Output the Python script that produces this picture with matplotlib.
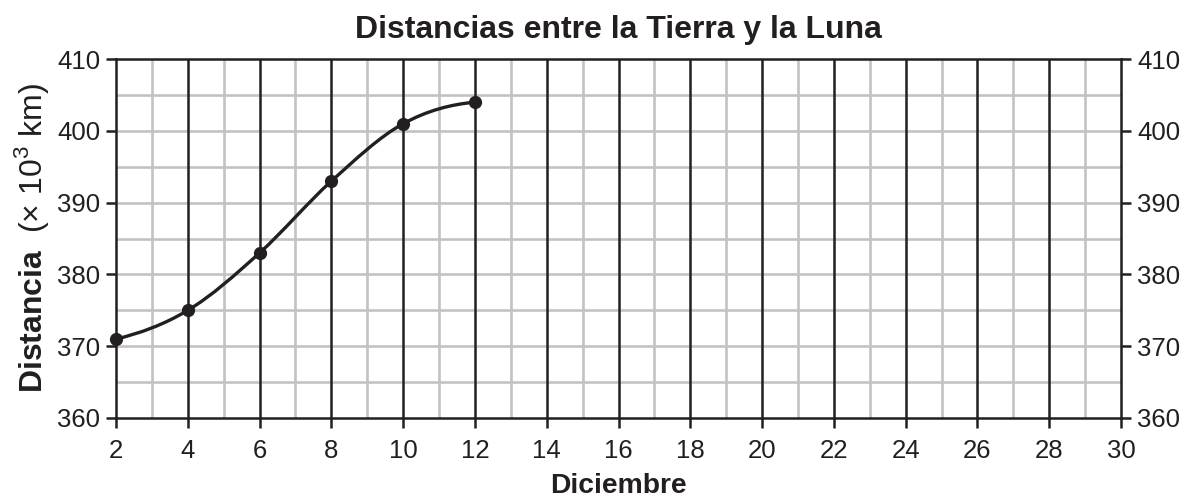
import matplotlib.pyplot as plt
import numpy as np
from matplotlib.path import Path
from matplotlib.patches import PathPatch

plt.rcParams['font.family'] = ['Liberation Sans', 'DejaVu Sans']
plt.rcParams['mathtext.fontset'] = 'custom'
plt.rcParams['mathtext.rm'] = 'Liberation Sans'
plt.rcParams['mathtext.bf'] = 'Liberation Sans:bold'

# data
dias = [2, 4, 6, 8, 10, 12]
distancia = [371, 375, 383, 393, 401, 404]

ink = '#231f20'
gris = '#c3c3c6'

fig = plt.figure(figsize=(11.9, 5.01), dpi=100)
ax = fig.add_axes([0.0975, 0.1657, 0.8445, 0.7163])
ax.set_xlim(2, 30)
ax.set_ylim(360, 410)

# grid: gray minor lines, black every 2 days
for x in range(3, 30, 2):
    ax.axvline(x, color=gris, lw=1.9, zorder=1)
for y in range(365, 410, 5):
    ax.axhline(y, color=gris, lw=1.9, zorder=1)
for x in range(4, 30, 2):
    ax.axvline(x, color=ink, lw=1.8, zorder=2)

# smooth curve through the points (cubic bezier, monotone tangents)
xs = np.array(dias, float)
ys = np.array(distancia, float)
d = np.diff(ys) / np.diff(xs)
m = np.zeros_like(ys)
m[0] = d[0] * 0.6
m[-1] = d[-1] * 0.3
for i in range(1, len(xs) - 1):
    m[i] = (d[i - 1] + d[i]) / 2
verts = [(xs[0], ys[0])]
codes = [Path.MOVETO]
for i in range(len(xs) - 1):
    h = (xs[i + 1] - xs[i]) / 3
    verts += [(xs[i] + h, ys[i] + m[i] * h),
              (xs[i + 1] - h, ys[i + 1] - m[i + 1] * h),
              (xs[i + 1], ys[i + 1])]
    codes += [Path.CURVE4] * 3
ax.add_patch(PathPatch(Path(verts, codes), fill=False, ec=ink, lw=2.4, zorder=3))
ax.plot(dias, distancia, 'o', color=ink, ms=8.5, zorder=4, clip_on=False)

for s in ax.spines.values():
    s.set_color(ink)
    s.set_linewidth(1.8)

ax.set_xticks(range(2, 31, 2))
ax.set_yticks(range(360, 411, 10))
ax.tick_params(axis='both', direction='out', length=7, width=1.8, color=ink,
               labelsize=18.5, labelcolor=ink)
ax.tick_params(axis='x', pad=8)
ax.tick_params(axis='y', pad=4.5, right=True, labelright=True)

ax.set_xlabel('Diciembre', fontsize=20.3, fontweight='bold', color=ink, labelpad=7)
ax.set_ylabel(r'$\mathbf{Distancia}$  (× 10$^{3}$ km)', fontsize=23, color=ink, labelpad=4)
ax.set_title('Distancias entre la Tierra y la Luna', fontsize=23, fontweight='bold',
             color=ink, pad=15)

plt.savefig('out.png', dpi=100)
